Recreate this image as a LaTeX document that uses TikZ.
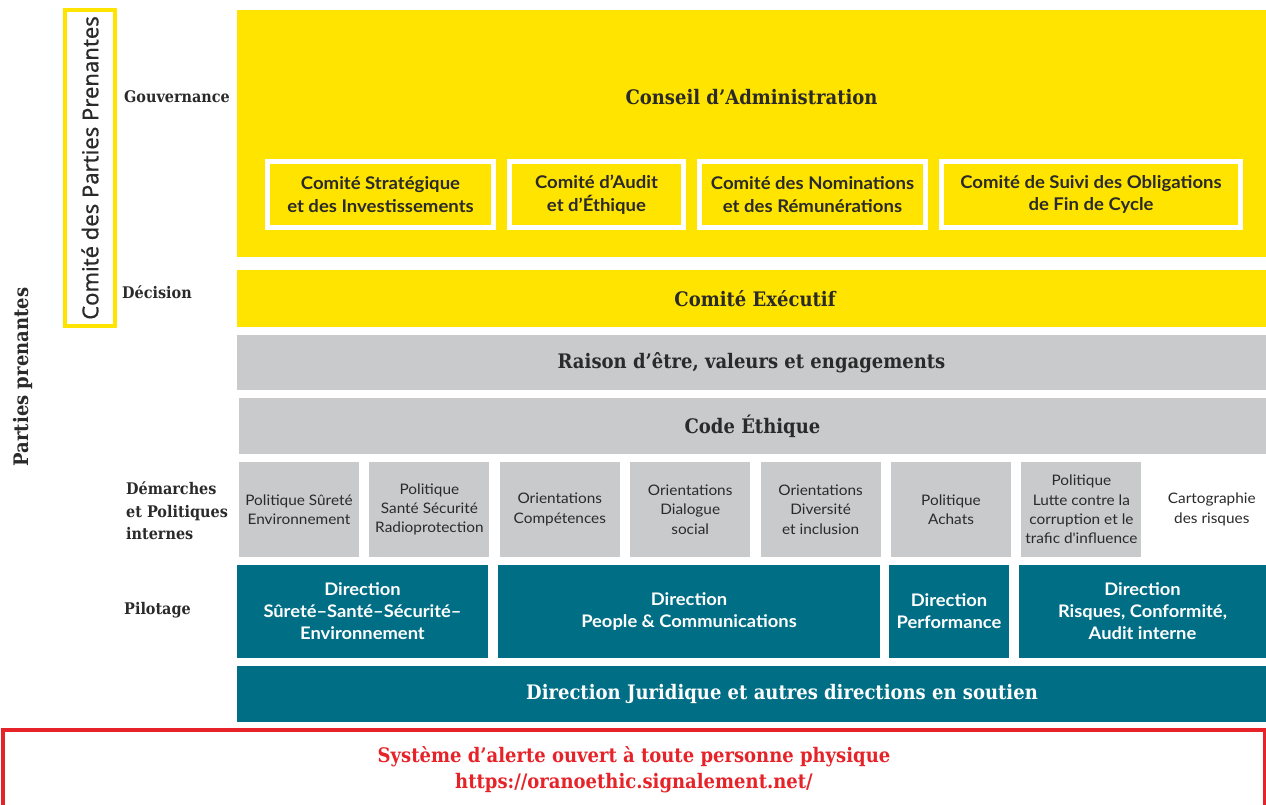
\documentclass[tikz,border=0pt]{standalone}
\usepackage{fontspec}
\setmainfont{Lato}
\newfontfamily\slab[FakeStretch=0.9]{DejaVu Serif}
\newfontfamily\widesans[FakeStretch=1.06]{Lato}
\newfontfamily\cppfont[FakeBold=0.6]{Noto Sans}
\usepackage{tikz}
\usetikzlibrary{positioning}
\definecolor{orgyellow}{HTML}{FFE400}
\definecolor{orggrey}{HTML}{C9CACC}
\definecolor{orgteal}{HTML}{006F85}
\definecolor{orgred}{HTML}{E52329}
\definecolor{ink}{HTML}{2A2A2A}

\begin{document}
\begin{tikzpicture}[
    x=1pt,y=-1pt,
    node distance=10pt,
    ybar/.style={fill=orgyellow,inner sep=0pt,text=ink,font=\slab\bfseries\fontsize{20}{24}\selectfont},
    gbar/.style={fill=orggrey,inner sep=0pt,text=ink,font=\slab\bfseries\fontsize{20}{24}\selectfont},
    comite/.style={fill=orgyellow,draw=white,line width=5pt,align=center,minimum height=66pt,inner sep=0pt,text=ink,font=\widesans\bfseries\fontsize{17.5}{22.5}\selectfont},
    pol/.style={fill=orggrey,minimum width=120pt,minimum height=95pt,inner sep=0pt,align=center,text=ink,font=\widesans\fontsize{14.5}{19.3}\selectfont},
    dir/.style={fill=orgteal,inner sep=0pt,align=center,text=white,font=\widesans\bfseries\fontsize{17.3}{22}\selectfont},
    sidelab/.style={anchor=west,align=left,inner sep=0pt,text=ink,font=\slab\bfseries\fontsize{16}{22.5}\selectfont}
  ]
  \clip (0,0) rectangle (1266,805);

  % left side
  \node[rotate=90,inner sep=0pt,text=ink,font=\slab\bfseries\fontsize{20}{24}\selectfont] (parties) at (23,377) {Parties prenantes};
  \node[draw=orgyellow,line width=4pt,minimum width=50pt,minimum height=316pt,inner sep=0pt] (cpp) at (90,168) {};
  \node[rotate=90,inner sep=0pt,text=ink,font=\cppfont\fontsize{22}{26}\selectfont] (cpptxt) at (cpp.center) {Comité des Parties Prenantes};

  \node[sidelab] (gouv) at (124,97) {Gouvernance};
  \node[sidelab] (decis) at (122,292) {Décision};
  \node[sidelab] (demar) at (126,511) {Démarches\\et Politiques\\internes};
  \node[sidelab] (pilot) at (124,610) {Pilotage};

  % gouvernance
  \node[ybar,minimum width=1029pt,minimum height=247pt] (conseil) at (751.5,133.5) {};
  \node[ybar,fill=none] (conseiltxt) at (751.5,97) {Conseil d’Administration};
  \node[comite,minimum width=226pt] (strat) at (380.5,194.5) {Comité Stratégique\\et des Investissements};
  \node[comite,minimum width=174pt,right=11pt of strat] (audit) {Comité d’Audit\\et d’Éthique};
  \node[comite,minimum width=226pt,right=11pt of audit] (nomin) {Comité des Nominations\\et des Rémunérations};
  \node[comite,minimum width=299pt,right=11pt of nomin] (suivi) {Comité de Suivi des Obligations\\de Fin de Cycle};

  % decision
  \node[ybar,minimum width=1029pt,minimum height=57pt] (comex) at (751.5,298.5) {};
  \node[ybar,fill=none] (comextxt) at (755,298.5) {Comité Exécutif};
  \node[gbar,minimum width=1029pt,minimum height=55pt] (raison) at (751.5,362.5) {Raison d’être, valeurs et engagements};
  \node[gbar,minimum width=1027pt,minimum height=56pt] (code) at (752.5,426) {Code Éthique};

  % politiques
  \node[pol] (pol1) at (299,509.5) {Politique Sûreté\\Environnement};
  \node[pol,right=of pol1] (pol2) {Politique\\Santé Sécurité\\Radioprotection};
  \node[pol,right=of pol2] (pol3) {Orientations\\Compétences};
  \node[pol,right=of pol3] (pol4) {Orientations\\Dialogue\\social};
  \node[pol,right=of pol4] (pol5) {Orientations\\Diversité\\et inclusion};
  \node[pol,right=of pol5] (pol6) {Politique\\Achats};
  \node[pol,right=of pol6] (pol7) {Politique\\Lutte contre la\\corruption et le\\trafic d\textquotesingle influence};
  \node[pol,fill=none,right=of pol7] (carto) {Cartographie\\des risques};

  % pilotage
  \node[dir,minimum width=251pt,minimum height=93pt] (dssse) at (362.5,611.5) {Direction\\Sûreté–Santé–Sécurité–\\Environnement};
  \node[dir,minimum width=382pt,minimum height=93pt] (dpc) at (689,611.5) {Direction\\People \& Communications};
  \node[dir,minimum width=120pt,minimum height=93pt] (dperf) at (949,611.5) {Direction\\Performance};
  \node[dir,minimum width=247pt,minimum height=93pt] (drca) at (1142.5,611.5) {Direction\\Risques, Conformité,\\Audit interne};
  \node[dir,minimum width=1029pt,minimum height=56pt] (djur) at (751.5,694) {};
  \node[dir,fill=none,font=\slab\bfseries\fontsize{20}{24}\selectfont] (djurtxt) at (782,694) {Direction Juridique et autres directions en soutien};

  % alerte
  \node[draw=orgred,line width=4pt,minimum width=1262pt,minimum height=80pt,inner sep=0pt,align=center,text=orgred,font=\slab\bfseries\fontsize{20}{26}\selectfont] (alerte) at (634,770) {Système d’alerte ouvert à toute personne physique\\https://oranoethic.signalement.net/};
\end{tikzpicture}
\end{document}
